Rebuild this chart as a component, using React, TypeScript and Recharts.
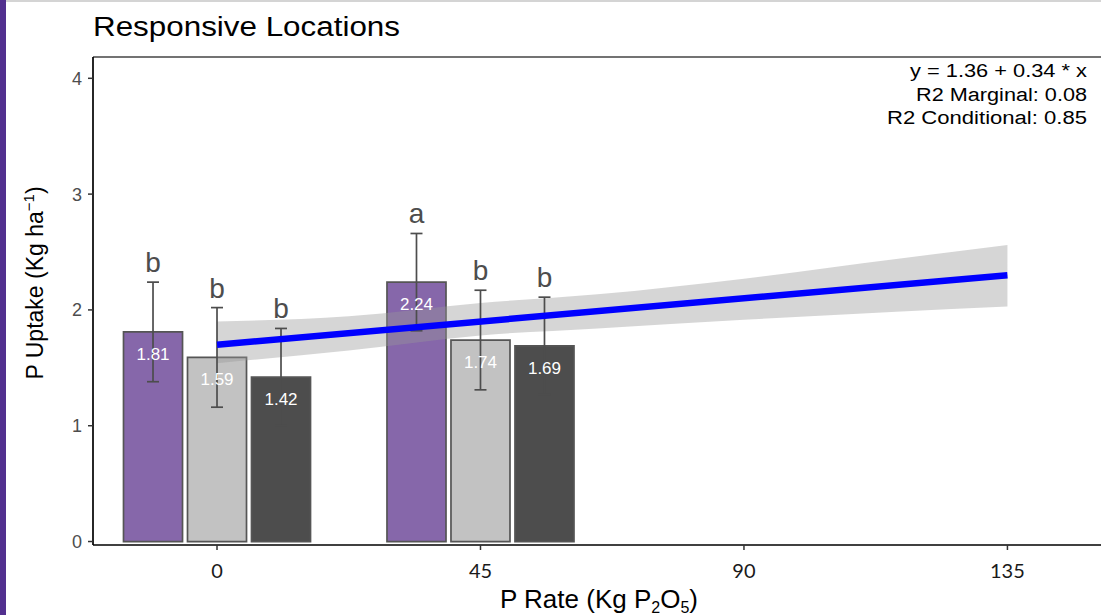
import React from 'react';
import { ComposedChart, XAxis, YAxis, Area, Line, Scatter, ErrorBar, ReferenceArea, ReferenceLine } from 'recharts';

const FONT = '"Liberation Sans", Arial, Helvetica, sans-serif';

// P rate groups and the three bars in each
const RATES = [0, 45];
const BAR_COLORS = ['#8667aa', '#c2c2c2', '#4d4d4d'];
const UPTAKE_0 = [1.81, 1.59, 1.42];
const UPTAKE_45 = [2.24, 1.74, 1.69];
const ERR_0 = [0.43, 0.43, 0.42];
const ERR_45 = [0.42, 0.43, 0.42];
const LETTERS_0 = ['b', 'b', 'b'];
const LETTERS_45 = ['a', 'b', 'b'];

// fitted line and its confidence band
const FIT_X = [0, 135];
const FIT_Y = [1.7, 2.3];
const BAND_X = [0, 22.5, 45, 65, 90, 116, 135];
const BAND_LOW = [1.54, 1.65, 1.78, 1.84, 1.915, 1.985, 2.03];
const BAND_HIGH = [1.9, 1.945, 2.06, 2.135, 2.27, 2.44, 2.56];

const X_TICKS = [0, 45, 90, 135];
const Y_TICKS = [0, 1, 2, 3, 4];
const EQUATION = ['y = 1.36 + 0.34 * x', 'R2 Marginal: 0.08', 'R2 Conditional: 0.85'];

const X_DOMAIN: [number, number] = [-21.18, 150.98];
const Y_DOMAIN: [number, number] = [-0.03, 4.184];
const DODGE = 10.93;
const HALF_W = 5.04;

const UPTAKE = [UPTAKE_0, UPTAKE_45];
const ERR = [ERR_0, ERR_45];
const LETTERS = [LETTERS_0, LETTERS_45];

const bars = RATES.flatMap((rate, i) =>
    UPTAKE[i].map((v, j) => ({
        x: rate + (j - 1) * DODGE,
        y: v,
        err: ERR[i][j],
        label: v.toFixed(2),
        letter: LETTERS[i][j],
        color: BAR_COLORS[j],
    }))
);
const letterPts = bars.map(b => ({ x: b.x, y: b.y + b.err, letter: b.letter }));
const bandData = BAND_X.map((x, i) => ({ x, band: [BAND_LOW[i], BAND_HIGH[i]] }));
const fitData = FIT_X.map((x, i) => ({ x, fit: FIT_Y[i] }));

const ValueLabel = (p: any) => (
    <text x={p.cx} y={p.cy + 28} textAnchor="middle" fill="#ffffff" fontSize={17} fontFamily={FONT}>
        {p.payload.label}
    </text>
);

const LetterLabel = (p: any) => (
    <text x={p.cx} y={p.cy - 10} textAnchor="middle" fill="#4d4d4d" fontSize={28} fontFamily={FONT}>
        {p.payload.letter}
    </text>
);

const XTitle = (p: any) => {
    const vb = p.viewBox;
    return (
        <text x={vb.x + vb.width / 2 + 2} y={608} textAnchor="middle" fontSize={26} fontFamily={FONT} fill="#000">
            P Rate (Kg P<tspan fontSize={16} dy={5}>2</tspan>
            <tspan dy={-5}>O</tspan>
            <tspan fontSize={16} dy={5}>5</tspan>
            <tspan dy={-5}>)</tspan>
        </text>
    );
};

const YTitle = () => (
    <text x={0} y={0} transform="translate(43,283) rotate(-90)" textAnchor="middle" fontSize={23} fontFamily={FONT} fill="#000">
        P Uptake (Kg ha<tspan fontSize={15} dy={-9}>−1</tspan>
        <tspan dy={9}>)</tspan>
    </text>
);

export default function App() {
    return (
        <div style={{ position: 'absolute', left: 0, top: 0, width: 1101, height: 615, background: '#fff', overflow: 'hidden' }}>
            <div style={{ position: 'absolute', left: 0, top: 0, width: 6, height: 615, background: '#52308f' }} />
            <div style={{ position: 'absolute', left: 6, top: 0, width: 1095, height: 2, background: '#d4d4d4' }} />
            <ComposedChart
                width={1101}
                height={615}
                data={bandData}
                margin={{ top: 57, right: 0, bottom: 0, left: 0 }}
            >
                <XAxis
                    dataKey="x"
                    type="number"
                    domain={X_DOMAIN}
                    allowDataOverflow
                    ticks={X_TICKS}
                    height={70}
                    tickSize={5}
                    tickMargin={14}
                    tick={{ fill: '#1a1a1a', fontSize: 20, fontFamily: 'Lato, ' + FONT }}
                    tickLine={{ stroke: '#333', strokeWidth: 1.5 }}
                    axisLine={{ stroke: '#000', strokeWidth: 1.7 }}
                    label={<XTitle />}
                />
                <YAxis
                    dataKey="y"
                    type="number"
                    domain={Y_DOMAIN}
                    allowDataOverflow
                    ticks={Y_TICKS}
                    width={93}
                    tickSize={5}
                    tickMargin={6}
                    tick={{ fill: '#4d4d4d', fontSize: 18, fontFamily: FONT }}
                    tickLine={{ stroke: '#333', strokeWidth: 1.5 }}
                    axisLine={{ stroke: '#000', strokeWidth: 1.7 }}
                    label={<YTitle />}
                />
                <ReferenceLine y={Y_DOMAIN[1]} stroke="#444" strokeWidth={1.3} ifOverflow="visible" />
                {bars.map((b, i) => (
                    <ReferenceArea
                        key={i}
                        x1={b.x - HALF_W}
                        x2={b.x + HALF_W}
                        y1={0}
                        y2={b.y}
                        fill={b.color}
                        fillOpacity={1}
                        stroke="#555555"
                        strokeWidth={1.7}
                        ifOverflow="visible"
                    />
                ))}
                <Scatter data={bars} shape={ValueLabel} isAnimationActive={false} />
                <Scatter data={bars} shape={() => <g />} isAnimationActive={false}>
                    <ErrorBar dataKey="err" direction="y" width={6} stroke="#4d4d4d" strokeWidth={1.7} />
                </Scatter>
                <Area
                    dataKey="band"
                    type="monotone"
                    stroke="none"
                    fill="#999999"
                    fillOpacity={0.4}
                    isAnimationActive={false}
                    activeDot={false}
                />
                <Line
                    data={fitData}
                    dataKey="fit"
                    type="linear"
                    stroke="#0000ff"
                    strokeWidth={6.5}
                    dot={false}
                    activeDot={false}
                    isAnimationActive={false}
                />
                <Scatter data={letterPts} shape={LetterLabel} isAnimationActive={false} />
            </ComposedChart>
            <svg width={1101} height={615} style={{ position: 'absolute', left: 0, top: 0, pointerEvents: 'none' }}>
                <text x={93} y={36} fontSize={27} fontFamily={FONT} fill="#000" textLength={307} lengthAdjust="spacingAndGlyphs">
                    Responsive Locations
                </text>
                {EQUATION.map((t, i) => (
                    <text
                        key={t}
                        x={1087}
                        y={77 + i * 23.5}
                        textAnchor="end"
                        fontSize={18}
                        fontFamily={FONT}
                        fill="#000"
                        textLength={[177, 171, 200][i]}
                        lengthAdjust="spacingAndGlyphs"
                    >
                        {t}
                    </text>
                ))}
            </svg>
        </div>
    );
}
